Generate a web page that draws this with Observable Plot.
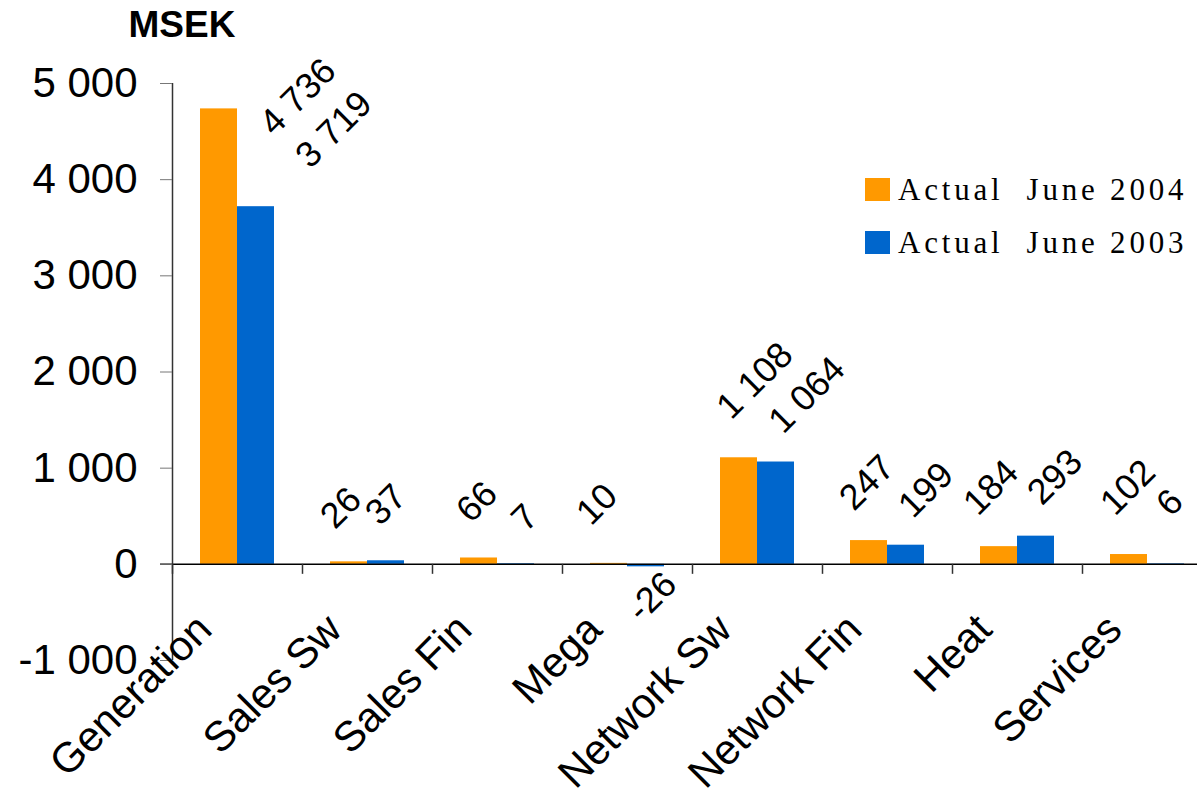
<!DOCTYPE html>
<html>
<head>
<meta charset="utf-8">
<script src="https://cdn.jsdelivr.net/npm/d3@7"></script>
<script src="https://cdn.jsdelivr.net/npm/@observablehq/plot@0.6"></script>
<style>
  html, body { margin: 0; padding: 0; background: #fff; }
  #wrap { position: relative; width: 1197px; height: 801px; overflow: hidden; background: #fff; }
  #legend { position: absolute; left: 865px; top: 163px; font-family: "Liberation Serif", "Times New Roman", serif; font-size: 31px; letter-spacing: 3.8px; color: #000; white-space: pre; }
  #legend .row { display: flex; align-items: center; height: 53px; }
  #legend .sw { width: 25px; height: 23px; margin-right: 8px; flex: none; }
</style>
</head>
<body>
<div id="wrap"><div id="legend"></div></div>
<script>
const categories = ["Generation", "Sales Sw", "Sales Fin", "Mega", "Network Sw", "Network Fin", "Heat", "Services"];
const seriesNames = ["Actual  June 2004", "Actual  June 2003"];
const june2004 = [4736, 26, 66, 10, 1108, 247, 184, 102];
const june2003 = [3719, 37, 7, -26, 1064, 199, 293, 6];
const yTicks = [-1000, 0, 1000, 2000, 3000, 4000, 5000];
const colors = ["#FF9900", "#0066CC"];

const rows = [];
categories.forEach((c, i) => {
  rows.push({category: c, series: seriesNames[0], idx: 0, value: june2004[i]});
  rows.push({category: c, series: seriesNames[1], idx: 1, value: june2003[i]});
});

const loc = d3.formatLocale({decimal: ",", thousands: " ", grouping: [3], currency: ["", ""], minus: "-"});
const fmt = loc.format(",d");

// label nudges (px) relative to the bar's top centre
const nudge = {
  "Generation|0": [79, -12], "Generation|1": [78, -77],
  "Sales Sw|0": [-8, -54], "Sales Sw|1": [0, -56],
  "Sales Fin|0": [-2, -56], "Sales Fin|1": [9, -46],
  "Mega|0": [-12, -59], "Mega|1": [6, 30],
  "Network Sw|0": [16, -77], "Network Sw|1": [31, -67],
  "Network Fin|0": [-2, -58], "Network Fin|1": [20, -55],
  "Heat|0": [-8, -59], "Heat|1": [19, -59],
  "Services|0": [-1, -67], "Services|1": [4, -61]
};
const barShift = [-18.5, 18.5];

const labelMarks = rows.map(d => {
  const n = nudge[d.category + "|" + d.idx] || [0, -58];
  return Plot.text([d], {
    x: "category", y: "value", text: r => fmt(r.value),
    dx: barShift[d.idx] + n[0], dy: n[1],
    rotate: -45, textAnchor: "middle", lineAnchor: "middle",
    fontSize: 36, fill: "#000"
  });
});

const chart = Plot.plot({
  width: 1197,
  height: 801,
  marginLeft: 172,
  marginRight: -15,
  marginTop: 83,
  marginBottom: 141,
  style: {fontFamily: "'Liberation Sans', Arial, sans-serif", background: "transparent", color: "#000"},
  x: {type: "band", domain: categories, padding: 0},
  y: {domain: [-1000, 5000]},
  color: {domain: seriesNames, range: colors},
  marks: [
    Plot.barY(rows.filter(d => d.idx === 0), {x: "category", y: "value", fill: "series", insetLeft: 28, insetRight: 65}),
    Plot.barY(rows.filter(d => d.idx === 1), {x: "category", y: "value", fill: "series", insetLeft: 65, insetRight: 28}),
    Plot.ruleY([0], {stroke: "#000", strokeWidth: 1.5, insetLeft: -12}),
    Plot.ruleX(categories, {x: d => d, dx: -65, y1: 0, y2: 0, insetTop: 0, insetBottom: -10, stroke: "#333", strokeWidth: 1.5}),
    Plot.ruleX([categories[0]], {x: d => d, dx: -65, stroke: "#333", strokeWidth: 1.5}),
    Plot.axisY(yTicks, {tickFormat: fmt, tickSize: 12, tickPadding: 23, fontSize: 42, stroke: "#777", fill: "#000", label: null}),
    Plot.axisX({tickSize: 0, tickRotate: -45, fontSize: 42, dx: -33, dy: -50, label: null, fill: "#000"}),
    Plot.text(["MSEK"], {frameAnchor: "top-left", textAnchor: "start", lineAnchor: "middle", dx: -44, dy: -58, fontSize: 37, fontWeight: "bold", fill: "#000"}),
    ...labelMarks
  ]
});

document.getElementById("wrap").prepend(chart);

const legend = document.getElementById("legend");
seriesNames.forEach((s, i) => {
  const row = document.createElement("div");
  row.className = "row";
  const sw = document.createElement("span");
  sw.className = "sw";
  sw.style.background = colors[i];
  const t = document.createElement("span");
  t.textContent = s;
  row.appendChild(sw);
  row.appendChild(t);
  legend.appendChild(row);
});
</script>
</body>
</html>
